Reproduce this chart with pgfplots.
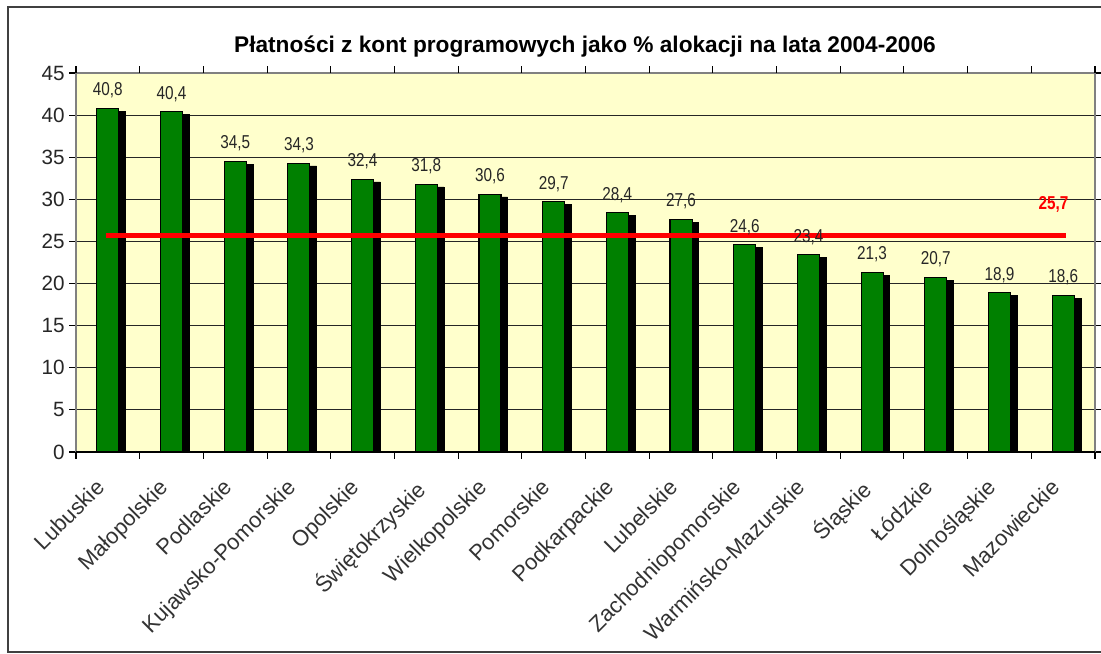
\documentclass[border=0pt]{standalone}
\usepackage{pgfplots}
\pgfplotsset{compat=1.18}
\usepackage{fontspec}
\setmainfont{Liberation Sans}
\newfontfamily\narrowfont[FakeStretch=0.82]{Liberation Sans}
\definecolor{bargreen}{RGB}{0,128,0}
\definecolor{bgyellow}{RGB}{255,255,204}
\definecolor{framegray}{RGB}{128,128,128}
\begin{document}
\begin{tikzpicture}
\useasboundingbox (0,0) rectangle (825.75pt,490.5pt);
\fill[white] (0,0) rectangle (825.75pt,490.5pt);
\draw[line width=1.2pt, black!75] (6pt,1.5pt) rectangle (840pt,485.25pt);
\node[anchor=base, font=\fontsize{17}{20}\selectfont\bfseries] at (438.75pt,450.75pt)
  {Płatności z kont programowych jako \% alokacji na lata 2004-2006};
\begin{axis}[
  at={(57pt,151.5pt)}, anchor=south west,
  scale only axis, width=764.25pt, height=284.25pt,
  xmin=-0.5, xmax=15.5, ymin=0, ymax=45,
  ytick={0,5,...,45},
  xtick={0,...,15},
  xticklabels={Lubuskie,Małopolskie,Podlaskie,Kujawsko-Pomorskie,Opolskie,Świętokrzyskie,Wielkopolskie,Pomorskie,Podkarpackie,Lubelskie,Zachodniopomorskie,Warmińsko-Mazurskie,Śląskie,Łódzkie,Dolnośląskie,Mazowieckie},
  xtick style={draw=none},
  extra x ticks={-0.5,0.5,...,15.5},
  extra x tick labels={},
  extra x tick style={xtick style={draw=black, line width=0.8pt}},
  tick align=outside,
  major tick length=5pt,
  ytick style={black, line width=0.8pt},
  ymajorgrids=true,
  major grid style={black!85, line width=0.8pt},
  axis line style={draw=framegray, line width=1.5pt},
  axis background/.style={fill=bgyellow},
  /pgf/number format/assume math mode=true,
  yticklabel style={font=\fontsize{15.5}{18}\selectfont, text=black!85},
  xticklabel style={font=\fontsize{16.5}{19}\selectfont, text=black!80, inner sep=0pt, xshift=-10pt, yshift=-14pt, rotate=45, anchor=north east},
  clip=true,
]
\addplot[ybar, bar width=16.5pt, bar shift=5pt, fill=black, draw=black, yshift=-2pt] coordinates {
(0,40.8) (1,40.4) (2,34.5) (3,34.3) (4,32.4) (5,31.8) (6,30.6) (7,29.7)
(8,28.4) (9,27.6) (10,24.6) (11,23.4) (12,21.3) (13,20.7) (14,18.9) (15,18.6)};
\addplot[ybar, bar width=16.5pt, bar shift=0pt, fill=bargreen, draw=black, line width=0.8pt,
  nodes near coords={\pgfmathprintnumber[use comma,fixed,fixed zerofill,precision=1]{\pgfplotspointmeta}},
  every node near coord/.append style={font=\narrowfont\fontsize{14}{16}\selectfont, text=black!85, yshift=4pt, /pgf/number format/assume math mode=true}
] coordinates {
(0,40.8) (1,40.4) (2,34.5) (3,34.3) (4,32.4) (5,31.8) (6,30.6) (7,29.7)
(8,28.4) (9,27.6) (10,24.6) (11,23.4) (12,21.3) (13,20.7) (14,18.9) (15,18.6)};
\addplot[red, line width=3.5pt, no marks] coordinates {(-0.03,25.7) (15.05,25.7)};
\draw[black, line width=1pt] (rel axis cs:0,0) -- (rel axis cs:1,0);
\node[text=red, font=\narrowfont\bfseries\fontsize{14}{16}\selectfont] at (axis cs:14.85,29.45) {25,7};
\end{axis}
\end{tikzpicture}
\end{document}
